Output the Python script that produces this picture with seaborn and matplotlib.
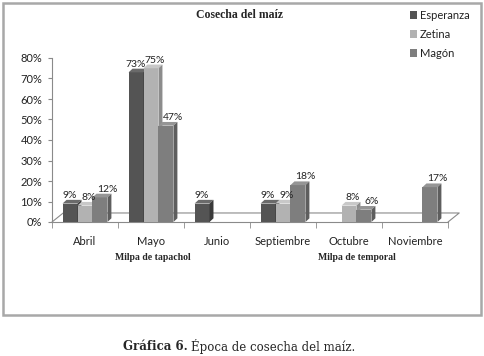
import pandas as pd
import numpy as np
import matplotlib.pyplot as plt
import seaborn as sns
from matplotlib.patches import Polygon, Rectangle
from matplotlib.ticker import PercentFormatter

# datos
meses = ["Abril", "Mayo", "Junio", "Septiembre", "Octubre", "Noviembre"]
sitios = ["Esperanza", "Zetina", "Magón"]
esperanza = [9, 73, 9, 9, 0, 0]
zetina = [8, 75, 0, 9, 8, 0]
magon = [12, 47, 0, 18, 6, 17]

colores = ["#545454", "#b2b2b2", "#7e7e7e"]
lados = ["#3a3a3a", "#8c8c8c", "#5e5e5e"]
tapas = ["#6a6a6a", "#c8c8c8", "#959595"]
desplaz = [-1.5, 1, 4]  # corrimiento horizontal de etiquetas (pt) por sitio

df = pd.DataFrame({
    "mes": meses * 3,
    "sitio": [s for s in sitios for _ in meses],
    "valor": esperanza + zetina + magon,
})

sns.set_style("white")
plt.rcParams['font.family'] = ['Lato', 'DejaVu Sans']

fig = plt.figure(figsize=(4.84, 3.56), dpi=100)
ax = fig.add_axes([52 / 484, 1 - 222 / 356, 396 / 484, 164 / 356])

sns.barplot(data=df, x="mes", y="valor", hue="sitio", palette=colores,
            width=0.68, linewidth=0, ax=ax, legend=True)

ax.set_xlim(-0.5, 5.5)
ax.set_ylim(0, 80)

# profundidad falsa (3D)
dx, dy = 0.06, 1.8
for i, cont in enumerate(ax.containers):
    for bar in cont:
        bar.set_zorder(3 + i)
        h = bar.get_height()
        if h <= 0:
            continue
        x0, w = bar.get_x(), bar.get_width()
        top = Polygon([(x0, h), (x0 + w, h), (x0 + w + dx, h + dy), (x0 + dx, h + dy)],
                      closed=True, facecolor=tapas[i], edgecolor="none", zorder=3 + i)
        side = Polygon([(x0 + w, 0), (x0 + w + dx, dy), (x0 + w + dx, h + dy), (x0 + w, h)],
                       closed=True, facecolor=lados[i], edgecolor="none", zorder=3 + i)
        ax.add_patch(top)
        ax.add_patch(side)
        ax.annotate(f"{h:.0f}%", (x0 + w / 2 + dx / 2, h + dy), xytext=(desplaz[i], 0),
                    textcoords="offset points", ha="center", va="bottom",
                    fontsize=7.5, color="#222222", zorder=10)

# piso
fx, fy = 0.17, 4.4
ax.plot([-0.5, -0.5 + fx, 5.5 + fx, 5.5], [0, fy, fy, 0], color="#8a8a8a",
        lw=0.8, clip_on=False, zorder=1)

sns.despine(ax=ax, top=True, right=True)
for s in ["left", "bottom"]:
    ax.spines[s].set_color("#8a8a8a")
    ax.spines[s].set_linewidth(0.8)

ax.yaxis.set_major_formatter(PercentFormatter(xmax=100, decimals=0))
ax.set_yticks(np.arange(0, 81, 10))
ax.tick_params(axis="y", length=3, color="#8a8a8a", labelsize=8, labelcolor="#222222", pad=4, left=True)
ax.set_xticks(np.arange(-0.5, 6, 1), minor=True)
ax.tick_params(axis="x", which="major", length=0, labelsize=8, labelcolor="#222222", pad=10)
ax.tick_params(axis="x", which="minor", length=4, color="#8a8a8a", bottom=True)
ax.set_xlabel("")
ax.set_ylabel("")

sns.move_legend(ax, loc="upper left", bbox_to_anchor=(404 / 484, 1 - 4 / 356),
                bbox_transform=fig.transFigure, frameon=False, title=None,
                fontsize=8, handlelength=0.7, handleheight=0.7, handletextpad=0.2,
                labelspacing=0.75, borderpad=0)
for t in ax.get_legend().get_texts():
    t.set_color("#222222")

fig.text(240 / 484, 1 - 15 / 356, "Cosecha del maíz", ha="center", va="center",
         fontsize=8.5, fontweight="bold", family="Liberation Serif")
fig.text(153 / 484, 1 - 258 / 356, "Milpa de tapachol", ha="center", va="center",
         fontsize=7, fontweight="bold", family="Liberation Serif")
fig.text(357 / 484, 1 - 257 / 356, "Milpa de temporal", ha="center", va="center",
         fontsize=7, fontweight="bold", family="Liberation Serif")

# pie de figura
cap1 = fig.text(123 / 484, 1 - 347 / 356, "Gráfica 6.", ha="left", va="center",
                fontsize=8.5, fontweight="bold", family="DejaVu Serif")
fig.canvas.draw()
bb = cap1.get_window_extent().transformed(fig.transFigure.inverted())
fig.text(bb.x1 + 3 / 484, 1 - 347 / 356, "Época de cosecha del maíz.", ha="left", va="center",
         fontsize=8.5, family="DejaVu Serif")

fig.patches.append(Rectangle((3 / 484, 1 - 315 / 356), 478 / 484, 312 / 356,
                             transform=fig.transFigure, fill=False,
                             edgecolor="#a8a8a8", lw=1.8))

fig.savefig("out.png", dpi=100)
